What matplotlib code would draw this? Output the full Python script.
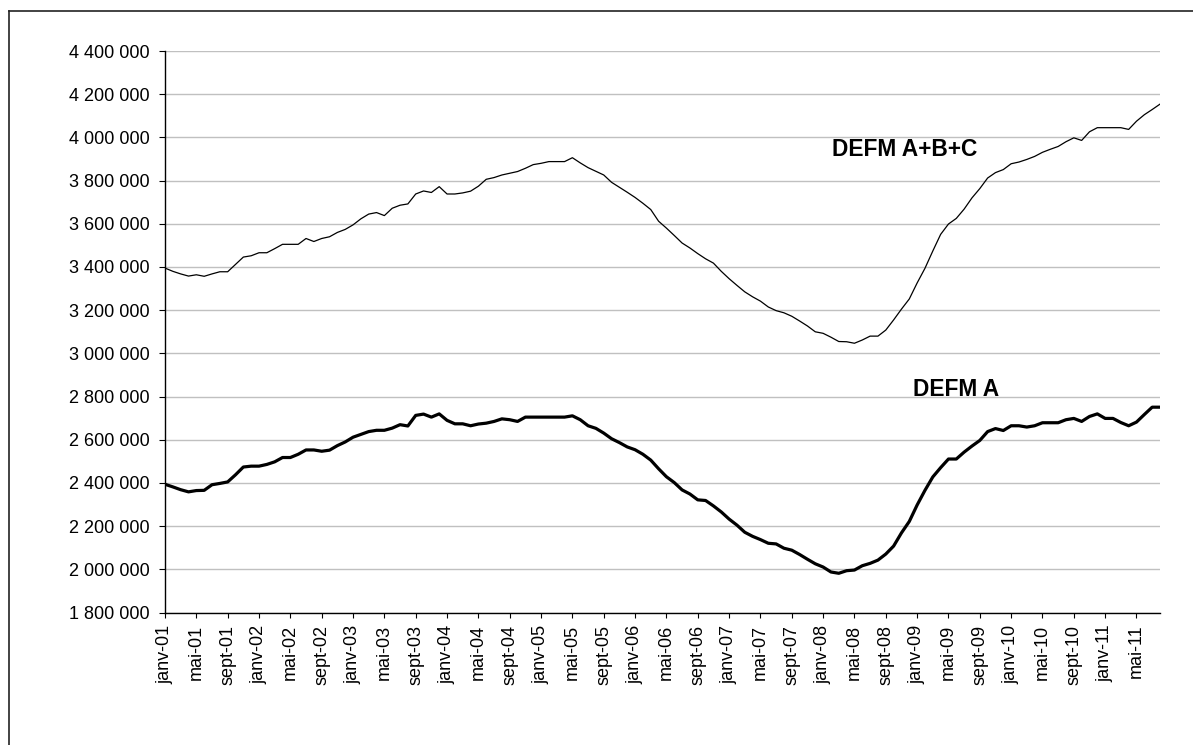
import matplotlib
matplotlib.use("Agg")
import matplotlib.pyplot as plt
from matplotlib.ticker import FuncFormatter, FixedLocator, MultipleLocator
from matplotlib.lines import Line2D

# ---- data (values in thousands) ----
month_names = ['janv', 'févr', 'mars', 'avr', 'mai', 'juin',
               'juil', 'août', 'sept', 'oct', 'nov', 'déc']
years = list(range(2001, 2012))
n_months = 128  # janv-01 .. août-11
categories = [f"{month_names[k % 12]}-{str(years[k // 12])[2:]}" for k in range(n_months)]

defm_abc = [
    3395, 3380, 3368, 3358, 3364, 3357, 3368, 3378, 3378, 3412, 3446, 3452,
    3466, 3466, 3485, 3505, 3505, 3505, 3532, 3518, 3532, 3540, 3560, 3574,
    3595, 3623, 3645, 3652, 3638, 3672, 3686, 3692, 3738, 3752, 3745, 3772,
    3738, 3738, 3743, 3751, 3774, 3806, 3814, 3826, 3834, 3842, 3857, 3874,
    3880, 3888, 3888, 3888, 3906, 3882, 3860, 3843, 3826, 3792, 3769, 3746,
    3722, 3695, 3666, 3612, 3580, 3546, 3511, 3488, 3462, 3438, 3418, 3380,
    3346, 3315, 3285, 3262, 3242, 3215, 3198, 3188, 3172, 3150, 3127, 3100,
    3093, 3075, 3055, 3054, 3047, 3062, 3080, 3080, 3108, 3155, 3205, 3252,
    3326, 3394, 3474, 3551, 3599, 3625, 3668, 3720, 3763, 3812, 3837, 3851,
    3878, 3886, 3898, 3912, 3931, 3945, 3958, 3980, 3998, 3986, 4026, 4045,
    4045, 4045, 4045, 4037, 4075, 4105, 4129, 4154,
]

defm_a = [
    2394, 2382, 2369, 2359, 2365, 2366, 2392, 2398, 2405, 2438, 2474, 2478,
    2478, 2486, 2498, 2518, 2518, 2533, 2553, 2553, 2547, 2552, 2573, 2590,
    2612, 2625, 2638, 2644, 2644, 2654, 2670, 2664, 2713, 2719, 2705, 2720,
    2690, 2674, 2674, 2665, 2673, 2677, 2685, 2697, 2693, 2685, 2705, 2705,
    2705, 2705, 2705, 2705, 2711, 2693, 2665, 2653, 2631, 2605, 2587, 2567,
    2554, 2533, 2506, 2466, 2429, 2402, 2368, 2349, 2322, 2319, 2294, 2266,
    2233, 2205, 2172, 2153, 2138, 2121, 2118, 2098, 2089, 2069, 2047, 2026,
    2011, 1988, 1982, 1994, 1997, 2017, 2028, 2043, 2071, 2108, 2169, 2222,
    2298, 2366, 2428, 2471, 2511, 2511, 2543, 2571, 2597, 2638, 2652, 2643,
    2665, 2665, 2659, 2665, 2679, 2679, 2679, 2693, 2699, 2685, 2708, 2720,
    2699, 2699, 2680, 2665, 2682, 2717, 2751, 2751,
]

label_abc = "DEFM A+B+C"
label_a = "DEFM A"

# ---- figure ----
plt.rcParams['font.family'] = ['Liberation Sans', 'DejaVu Sans']
W, H = 1193, 745
fig = plt.figure(figsize=(W / 100, H / 100), dpi=100)
fig.patch.set_facecolor('white')

ax = fig.add_axes([165 / W, 1 - 612.6 / H, (1160 - 165) / W, (612.6 - 51) / H])

x = list(range(n_months))
ax.plot(x, [v * 1000 for v in defm_abc], color='black', lw=0.9, solid_joinstyle='round')
ax.plot(x, [v * 1000 for v in defm_a], color='black', lw=2.3, solid_joinstyle='round')

ax.set_xlim(0, n_months - 1)
ax.set_ylim(1800000, 4400000)
ax.yaxis.set_major_locator(MultipleLocator(200000))
ax.yaxis.set_major_formatter(FuncFormatter(lambda v, p: f"{v:,.0f}".replace(',', ' ')))

tick_pos = list(range(0, n_months, 4))
ax.xaxis.set_major_locator(FixedLocator(tick_pos))
ax.set_xticklabels([categories[k] for k in tick_pos], rotation=90, va='top', ha='center')

ax.grid(axis='y', color='#c0c0c0', lw=1.0)
ax.set_axisbelow(True)
for s in ['top', 'right']:
    ax.spines[s].set_visible(False)
for s in ['left', 'bottom']:
    ax.spines[s].set_color('black')
    ax.spines[s].set_linewidth(1.0)

ax.tick_params(axis='y', direction='out', length=4.3, width=0.8, pad=7, labelsize=13, colors='black')
ax.tick_params(axis='x', direction='out', length=3.8, width=0.8, pad=5, labelsize=13, colors='black')

ax.text(85.1, 3946000, label_abc, fontsize=16.4, fontweight='bold', ha='left', va='center')
ax.text(95.5, 2831000, label_a, fontsize=16.4, fontweight='bold', ha='left', va='center')

# outer chart border (top and left visible)
fig.add_artist(Line2D([9.3 / W, 1.0], [1 - 10.7 / H, 1 - 10.7 / H], transform=fig.transFigure,
                      color='#222222', lw=1.2))
fig.add_artist(Line2D([9.3 / W, 9.3 / W], [1 - 10.7 / H, 0.0], transform=fig.transFigure,
                      color='#222222', lw=1.2))

fig.savefig('out.png', dpi=100, facecolor='white')
